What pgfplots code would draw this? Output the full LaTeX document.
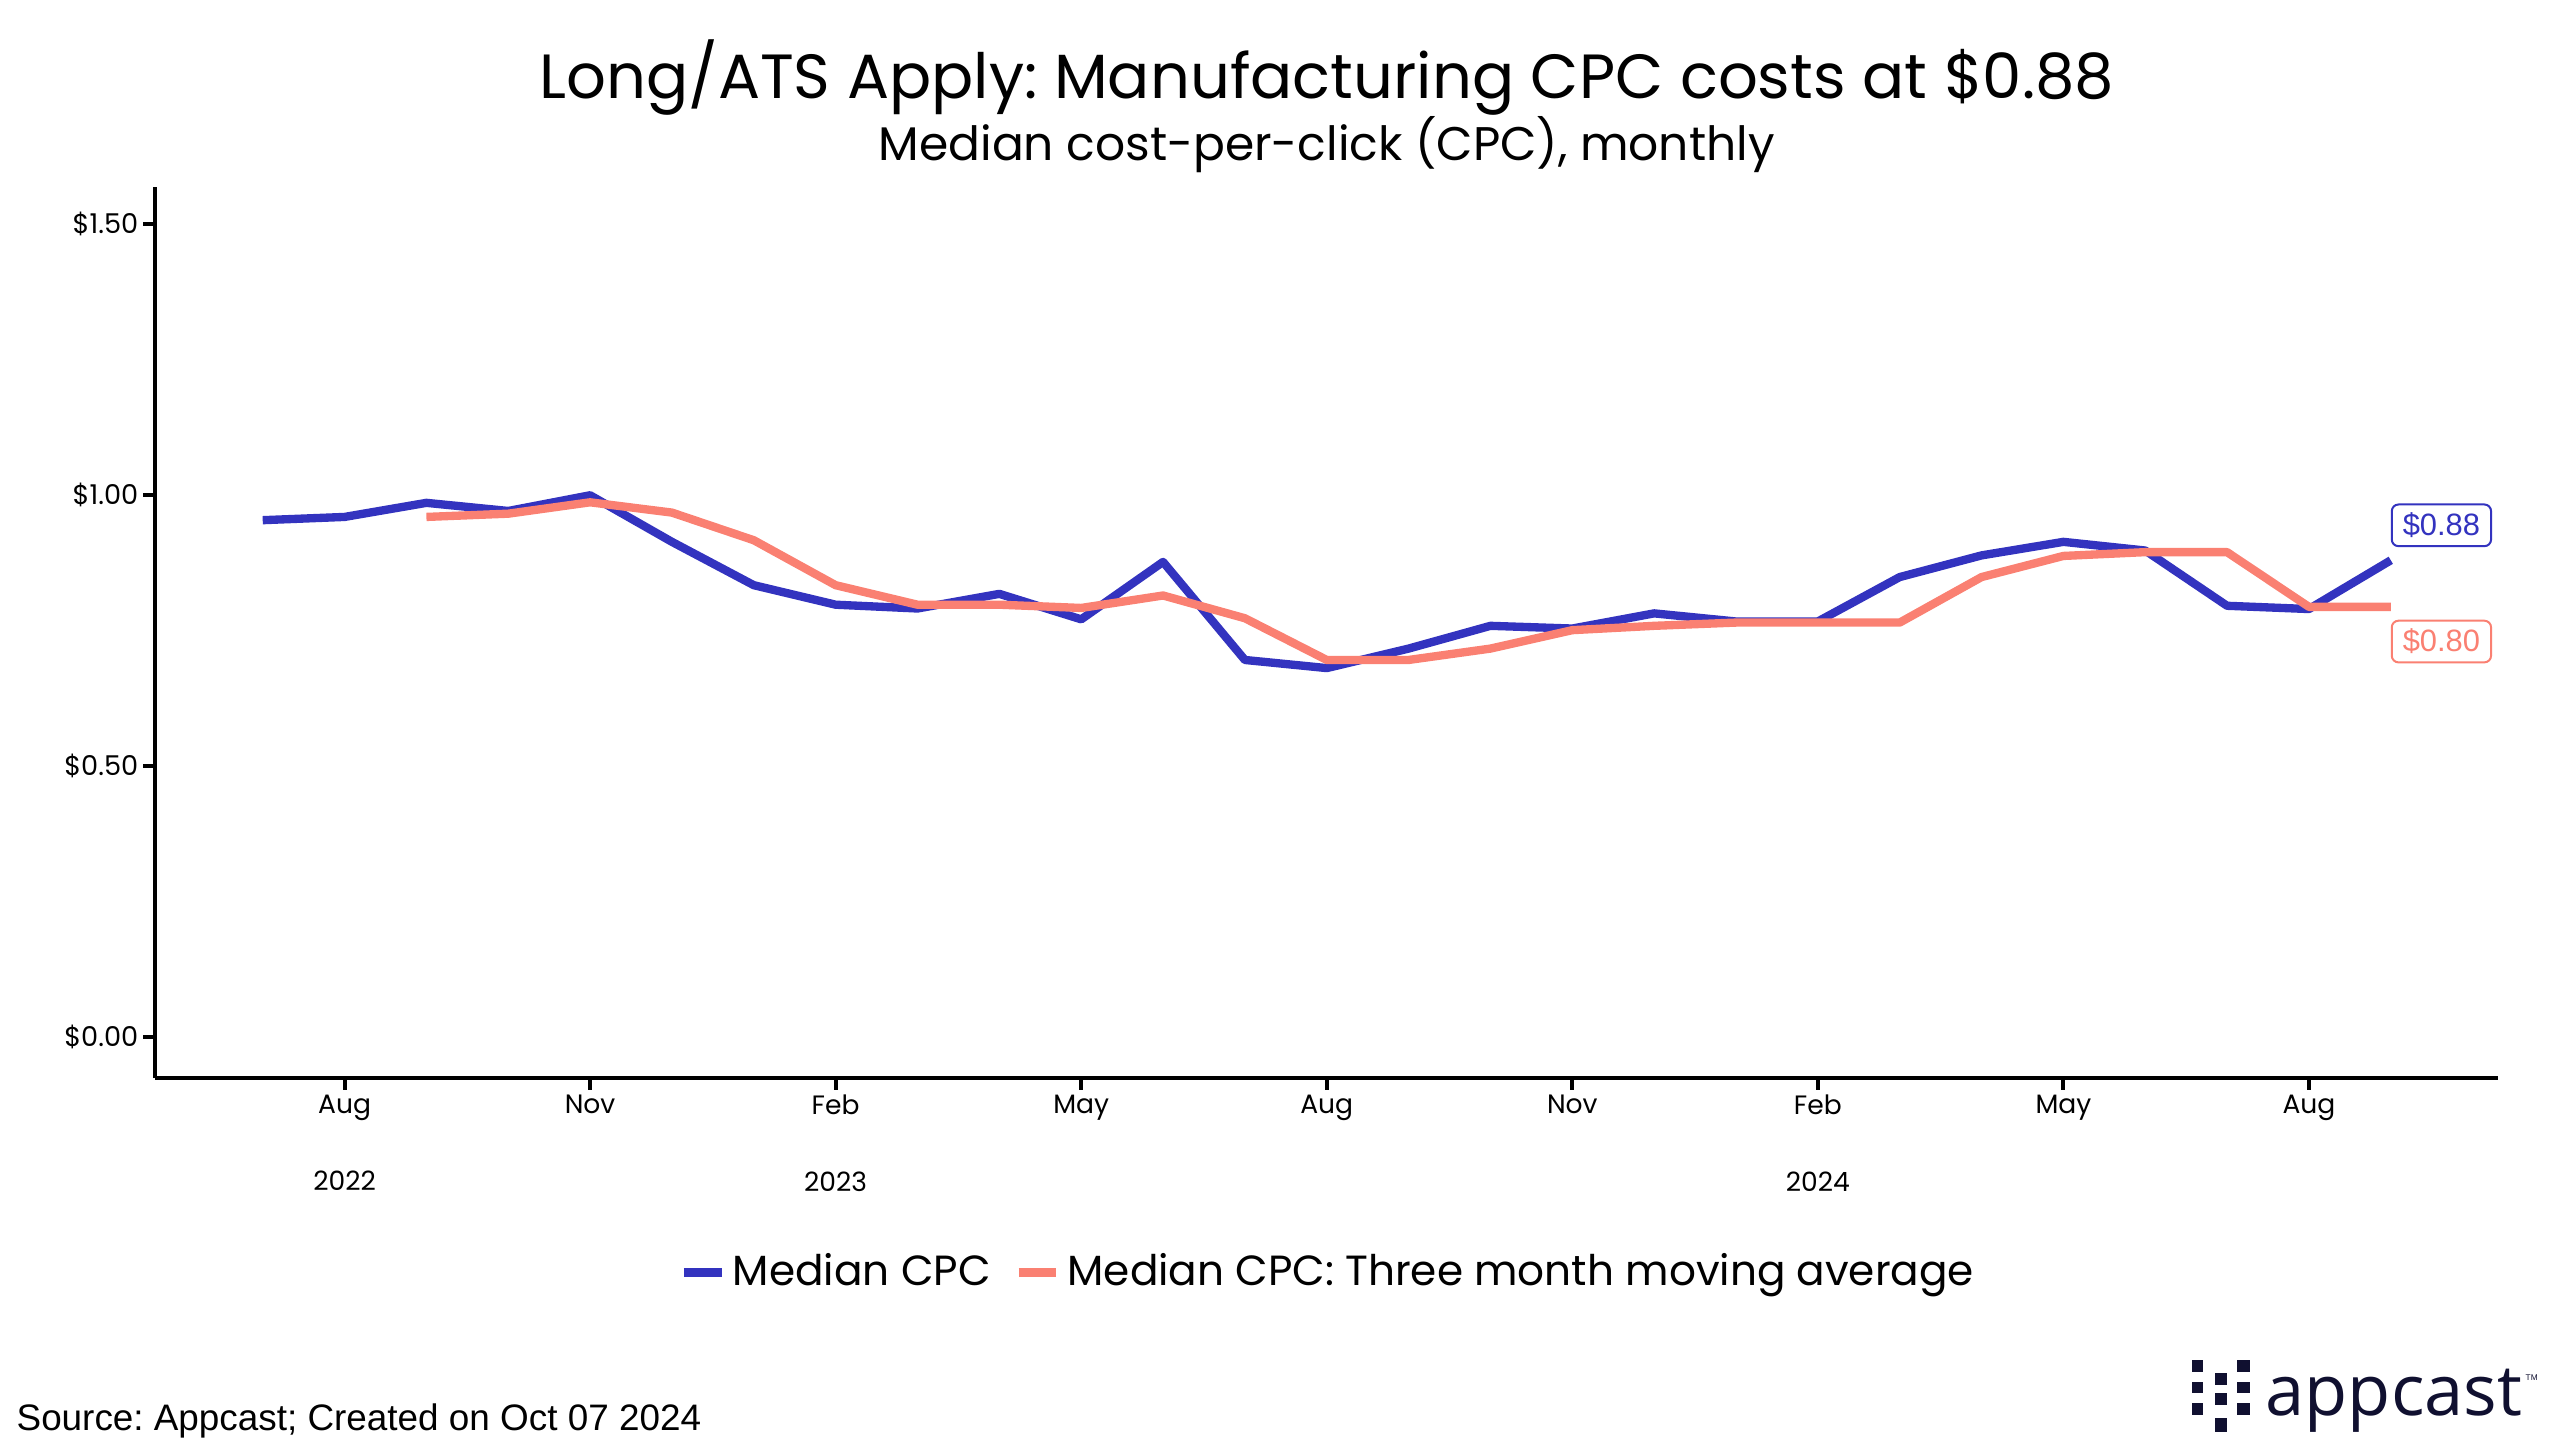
\documentclass[border=0pt]{standalone}
\usepackage{fontspec}
\usepackage{pgfplots}
\pgfplotsset{compat=1.18}
\setmainfont{Poppins}
\newfontfamily\arialf{Liberation Sans}
\newfontfamily\logof{Open Sans}
\definecolor{cpcblue}{RGB}{51,51,191}
\definecolor{cpcsalmon}{RGB}{250,128,114}
\definecolor{navy}{RGB}{16,16,48}
\frenchspacing

\pgfplotstableread{
x y
0 0.954
1 0.960
2 0.986
3 0.971
4 1.000
5 0.914
6 0.834
7 0.798
8 0.791
9 0.818
10 0.771
11 0.877
12 0.696
13 0.681
14 0.717
15 0.759
16 0.754
17 0.782
18 0.767
19 0.767
20 0.849
21 0.889
22 0.914
23 0.898
24 0.796
25 0.790
26 0.880
}\median

\pgfplotstableread{
x y
2 0.960
3 0.966
4 0.987
5 0.968
6 0.917
7 0.834
8 0.798
9 0.798
10 0.792
11 0.815
12 0.773
13 0.696
14 0.696
15 0.717
16 0.751
17 0.759
18 0.765
19 0.765
20 0.765
21 0.849
22 0.888
23 0.895
24 0.895
25 0.794
26 0.794
}\movavg

\begin{document}
\begin{tikzpicture}
\useasboundingbox (0bp,0bp) rectangle (768bp,436.5bp);
\begin{axis}[
  at={(46.5bp,113.1bp)}, anchor=south west,
  scale only axis, width=702.9bp, height=267.3bp,
  xmin=-1.316, xmax=27.31, ymin=-0.0756, ymax=1.569,
  axis x line=bottom, axis y line=left,
  axis line style={line width=1.2bp,-},
  tick align=outside,
  major tick length=3.5bp,
  tick style={line width=1.2bp, black},
  ytick={0,0.5,1,1.5},
  yticklabels={\$0.00,\$0.50,\$1.00,\$1.50},
  xtick={1,4,7,10,13,16,19,22,25},
  xticklabels={{Aug\\[13.5bp]2022},Nov,{Feb\\[13.5bp]2023},May,Aug,Nov,{Feb\\[13.5bp]2024},May,Aug},
  xticklabel style={align=center, font=\fontsize{8}{9.6}\selectfont, yshift=2bp},
  yticklabel style={font=\fontsize{8.2}{10}\selectfont, xshift=2bp},
  legend style={at={(0.5015,-0.218)}, anchor=center, draw=none, fill=none,
    legend columns=2, font=\fontsize{12.7}{14}\selectfont,
    /tikz/every even column/.append style={column sep=5bp}},
  legend image code/.code={\draw[#1,line width=2.8bp] (0bp,0bp) -- (11.3bp,0bp);},
  clip=false,
]
\addplot[cpcblue, line width=2.5bp, line join=round] table[x=x,y=y] {\median};
\addlegendentry{Median CPC}
\addplot[cpcsalmon, line width=2.5bp, line join=round] table[x=x,y=y] {\movavg};
\addlegendentry{Median CPC: Three month moving average}
\node[draw=cpcblue, text=cpcblue, fill=white, rounded corners=2bp, line width=0.6bp,
  anchor=west, font=\arialf\fontsize{9.3}{10}\selectfont, inner xsep=3.3bp, inner ysep=2.5bp]
  at (axis cs:26,0.9445) {\$0.88};
\node[draw=cpcsalmon, text=cpcsalmon, fill=white, rounded corners=2bp, line width=0.6bp,
  anchor=west, font=\arialf\fontsize{9.3}{10}\selectfont, inner xsep=3.3bp, inner ysep=2.5bp]
  at (axis cs:26,0.730) {\$0.80};
\end{axis}
\node[font=\fontsize{18.8}{20}\selectfont] at (398bp,413.1bp) {Long/ATS Apply: Manufacturing CPC costs at \$0.88};
\node[font=\fontsize{14.2}{15}\selectfont] at (398bp,393bp) {Median cost-per-click (CPC), monthly};
\node[anchor=base west, font=\arialf\fontsize{11.1}{13}\selectfont, inner sep=0pt] at (4.8bp,7.5bp) {Source: Appcast; Created on Oct 07 2024};
% logo
\fill[navy] (657.6bp,24.9bp) rectangle (660.9bp,28.5bp);
\fill[navy] (657.6bp,18.6bp) rectangle (660.9bp,21.9bp);
\fill[navy] (657.6bp,12.0bp) rectangle (660.9bp,15.6bp);
\fill[navy] (671.1bp,24.9bp) rectangle (675.0bp,28.5bp);
\fill[navy] (671.1bp,18.6bp) rectangle (675.0bp,21.9bp);
\fill[navy] (671.1bp,12.0bp) rectangle (675.0bp,15.6bp);
\fill[navy] (664.5bp,21.0bp) rectangle (668.1bp,24.6bp);
\fill[navy] (664.5bp,15.0bp) rectangle (668.1bp,18.6bp);
\fill[navy] (664.5bp,6.9bp) rectangle (668.1bp,11.1bp);
\node[anchor=base west, text=navy, font=\logof\fontsize{21.2}{22}\selectfont, inner sep=0pt] at (679.5bp,12bp) {appcast};
\node[anchor=base west, text=navy, font=\arialf\fontsize{2.5}{3}\selectfont, inner sep=0pt] at (757.5bp,22.5bp) {TM};
\end{tikzpicture}
\end{document}
